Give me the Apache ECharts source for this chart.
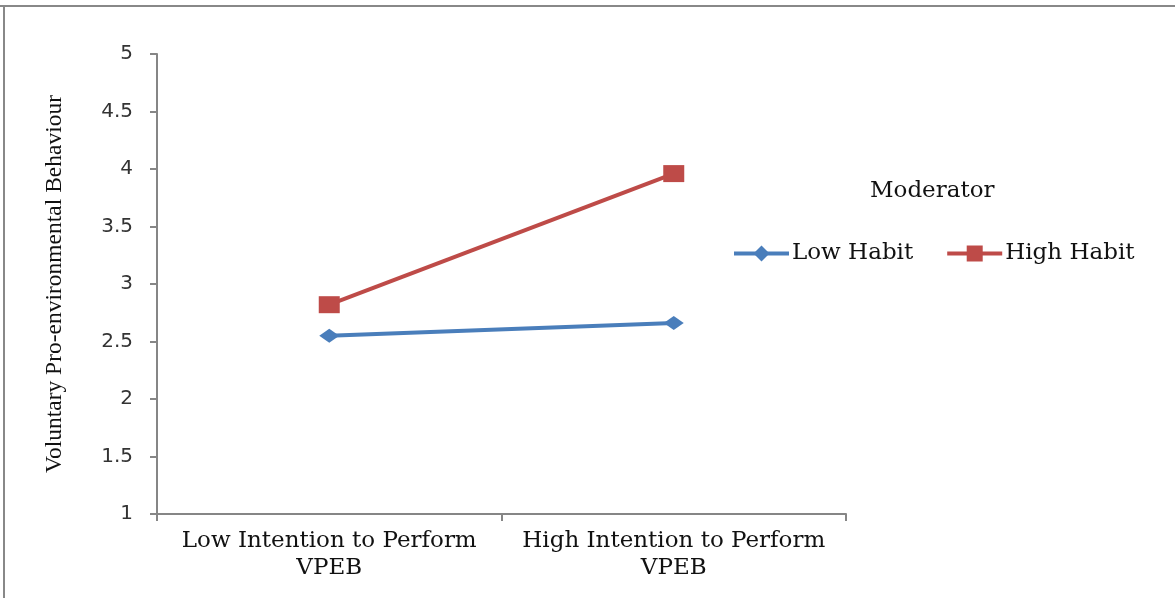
<!DOCTYPE html>
<html>
<head>
<meta charset="utf-8">
<script src="https://cdn.jsdelivr.net/npm/echarts@6/dist/echarts.min.js"></script>
<style>
html,body{margin:0;padding:0;background:#fff;}
#chart{width:1175px;height:598px;}
</style>
</head>
<body>
<div id="chart"></div>
<script>
var categories = ['Low Intention to Perform\nVPEB', 'High Intention to Perform\nVPEB'];
var lowHabit = [2.55, 2.66];
var highHabit = [2.82, 3.96];
var yTicks = {min: 1, max: 5, interval: 0.5};
var yTitle = 'Voluntary Pro-environmental Behaviour';
var legendTitle = 'Moderator';

var chart = echarts.init(document.getElementById('chart'), null, {renderer: 'canvas'});
chart.setOption({
  backgroundColor: '#fff',
  animation: false,
  title: {
    text: legendTitle,
    left: 870, top: 180, padding: 0,
    textStyle: {fontFamily: 'DejaVu Serif', fontWeight: 'normal', fontSize: 23, color: '#111'}
  },
  legend: {
    left: 732, top: 242, padding: 0,
    itemWidth: 55, itemHeight: 20, itemGap: 32,
    textStyle: {fontFamily: 'DejaVu Serif', fontSize: 23, color: '#111', padding: [0, 0, 0, -2]},
    lineStyle: {width: 4},
    data: ['Low Habit', 'High Habit']
  },
  graphic: [
    {type: 'line', shape: {x1: 0, y1: 6, x2: 1175, y2: 6}, style: {stroke: '#888', lineWidth: 2}},
    {type: 'line', shape: {x1: 4, y1: 5, x2: 4, y2: 598}, style: {stroke: '#888', lineWidth: 2}}
  ],
  grid: {left: 157, right: 329, top: 54, bottom: 84, containLabel: false},
  xAxis: {
    type: 'category',
    data: categories,
    boundaryGap: true,
    axisLine: {lineStyle: {color: '#868686', width: 2}},
    axisTick: {show: true, length: 7, interval: 0, alignWithLabel: false, lineStyle: {color: '#868686', width: 2}},
    axisLabel: {interval: 0, hideOverlap: false, margin: 14, lineHeight: 27, fontFamily: 'DejaVu Serif', fontSize: 23, color: '#111'}
  },
  yAxis: {
    type: 'value',
    min: yTicks.min, max: yTicks.max, interval: yTicks.interval,
    name: yTitle,
    nameLocation: 'middle',
    nameGap: 90,
    nameRotate: 90,
    nameTextStyle: {fontFamily: 'Liberation Serif', fontSize: 23.5, color: '#111'},
    axisLine: {show: true, lineStyle: {color: '#868686', width: 2}},
    axisTick: {show: true, length: 7, lineStyle: {color: '#868686', width: 2}},
    splitLine: {show: false},
    axisLabel: {margin: 24, fontFamily: 'DejaVu Sans', fontSize: 20, color: '#333'}
  },
  series: [
    {
      name: 'Low Habit', type: 'line', data: lowHabit,
      symbol: 'diamond', symbolSize: [20, 14],
      lineStyle: {color: '#4A7EBB', width: 4},
      itemStyle: {color: '#4A7EBB'}
    },
    {
      name: 'High Habit', type: 'line', data: highHabit,
      symbol: 'rect', symbolSize: [21, 17],
      lineStyle: {color: '#BE4B48', width: 4},
      itemStyle: {color: '#BE4B48'}
    }
  ]
});
</script>
</body>
</html>
